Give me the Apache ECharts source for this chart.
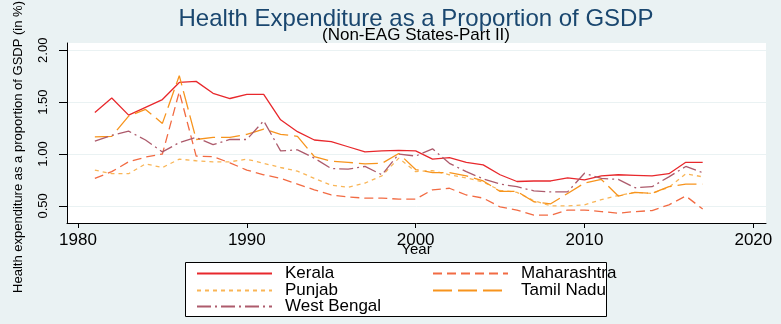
<!DOCTYPE html>
<html>
<head>
<meta charset="utf-8">
<script src="https://cdn.jsdelivr.net/npm/echarts@6/dist/echarts.min.js"></script>
<style>
  html, body { margin: 0; padding: 0; background: #eaf2f3; }
  #chart { width: 781px; height: 324px; }
</style>
</head>
<body>
<div id="chart"></div>
<script>
var years = [1981, 1982, 1983, 1984, 1985, 1986, 1987, 1988, 1989, 1990,
  1991, 1992, 1993, 1994, 1995, 1996, 1997, 1998, 1999, 2000,
  2001, 2002, 2003, 2004, 2005, 2006, 2007, 2008, 2009, 2010,
  2011, 2012, 2013, 2014, 2015, 2016, 2017];

var kerala = [1.40, 1.54, 1.375, 1.45, 1.525, 1.69, 1.70, 1.585, 1.535, 1.575,
  1.575, 1.33, 1.215, 1.135, 1.12, 1.07, 1.02, 1.03, 1.035, 1.03,
  0.95, 0.965, 0.92, 0.895, 0.80, 0.735, 0.74, 0.74, 0.77, 0.75,
  0.79, 0.80, 0.795, 0.79, 0.81, 0.92, 0.92];

var maharashtra = [0.765, 0.83, 0.925, 0.97, 1.00, 1.60, 0.98, 0.975, 0.915, 0.845,
  0.80, 0.765, 0.71, 0.655, 0.605, 0.585, 0.575, 0.575, 0.565, 0.565,
  0.655, 0.67, 0.605, 0.575, 0.49, 0.46, 0.41, 0.41, 0.46, 0.46,
  0.445, 0.43, 0.445, 0.455, 0.51, 0.595, 0.47];

var punjab = [0.845, 0.81, 0.81, 0.905, 0.87, 0.95, 0.935, 0.925, 0.925, 0.95,
  0.91, 0.87, 0.835, 0.765, 0.70, 0.68, 0.72, 0.79, 0.96, 0.83,
  0.84, 0.80, 0.77, 0.73, 0.65, 0.63, 0.55, 0.50, 0.50, 0.51,
  0.56, 0.60, 0.63, 0.62, 0.68, 0.81, 0.78];

var tamilNadu = [1.165, 1.17, 1.365, 1.43, 1.295, 1.755, 1.14, 1.16, 1.16, 1.19,
  1.24, 1.19, 1.17, 0.975, 0.93, 0.92, 0.905, 0.91, 1.005, 0.85,
  0.82, 0.82, 0.79, 0.74, 0.64, 0.64, 0.54, 0.52, 0.62, 0.72,
  0.755, 0.595, 0.63, 0.62, 0.685, 0.71, 0.71];

var westBengal = [1.125, 1.18, 1.22, 1.135, 1.02, 1.11, 1.16, 1.09, 1.14, 1.14,
  1.32, 1.03, 1.04, 0.96, 0.86, 0.855, 0.88, 0.80, 1.00, 0.98,
  1.05, 0.91, 0.83, 0.76, 0.71, 0.685, 0.645, 0.635, 0.635, 0.815,
  0.765, 0.755, 0.675, 0.685, 0.78, 0.88, 0.82];

var yTicks = [0.5, 1.0, 1.5, 2.0];
var xTicks = [1980, 1990, 2000, 2010, 2020];

function pairs(vals) {
  return years.map(function (y, i) { return [y, vals[i]]; });
}

var font = "'Liberation Sans', Arial, sans-serif";

var chart = echarts.init(document.getElementById('chart'));

function line(name, vals, color, dash) {
  return {
    name: name,
    type: 'line',
    symbol: 'none',
    data: pairs(vals),
    lineStyle: { color: color, width: 1.3, type: dash },
    itemStyle: { color: color },
    emphasis: { disabled: true }
  };
}

function legendItem(name, left, top) {
  return {
    data: [name],
    left: left,
    top: top,
    padding: 0,
    itemWidth: 75,
    itemHeight: 14,
    selectedMode: false,
    itemStyle: { opacity: 0 },
    textStyle: { fontFamily: font, fontSize: 17, color: '#000', padding: [0, 0, 0, 8] }
  };
}

chart.setOption({
  animation: false,
  backgroundColor: '#eaf2f3',
  title: [
    {
      text: 'Health Expenditure as a Proportion of GSDP',
      left: 416, top: 7, textAlign: 'center', padding: 0,
      textStyle: { fontFamily: font, fontSize: 24, fontWeight: 'normal', color: '#1a476f' }
    },
    {
      text: '(Non-EAG States-Part II)',
      left: 416, top: 27, textAlign: 'center', padding: 0,
      textStyle: { fontFamily: font, fontSize: 17, fontWeight: 'normal', color: '#000' }
    }
  ],
  grid: {
    left: 67, right: 15, top: 43, bottom: 101,
    show: true, backgroundColor: '#fff', borderWidth: 0
  },
  xAxis: {
    type: 'value',
    min: 1979.35,
    max: 2020.75,
    name: 'Year',
    nameLocation: 'middle',
    nameGap: 27,
    nameMoveOverlap: false,
    nameTextStyle: { fontFamily: font, fontSize: 15, color: '#000', verticalAlign: 'middle' },
    axisLine: { lineStyle: { color: '#000', width: 1 } },
    axisTick: { length: 5, customValues: xTicks, lineStyle: { color: '#000' } },
    axisLabel: {
      customValues: xTicks, margin: 9, fontFamily: font, fontSize: 17, color: '#000',
      formatter: function (v) { return String(v); }
    },
    splitLine: { show: false }
  },
  yAxis: {
    type: 'value',
    min: 0.335,
    max: 2.07,
    axisLine: { show: true, lineStyle: { color: '#000', width: 1 } },
    axisTick: { show: true, length: 8, customValues: yTicks, lineStyle: { color: '#000' } },
    axisLabel: {
      customValues: yTicks, rotate: 90, margin: 17,
      fontFamily: font, fontSize: 13, color: '#000',
      formatter: function (v) { return v.toFixed(2); }
    },
    splitLine: { show: true, lineStyle: { color: '#eaf2f3', width: 1 } }
  },
  legend: [
    legendItem('Kerala', 196, 265),
    legendItem('Maharashtra', 432, 265),
    legendItem('Punjab', 196, 282),
    legendItem('Tamil Nadu', 432, 282),
    legendItem('West Bengal', 196, 298)
  ],
  graphic: [
    {
      type: 'rect', z: -1,
      shape: { x: 185.5, y: 262.5, width: 421, height: 54 },
      style: { fill: '#fff', stroke: '#000', lineWidth: 1 }
    },
    {
      type: 'text', x: 18, y: 147, rotation: Math.PI / 2,
      style: {
        text: 'Health expenditure as a proportion of GSDP (in %)',
        align: 'center', verticalAlign: 'middle',
        fontFamily: font, fontSize: 13, fill: '#000'
      }
    }
  ],
  series: [
    line('Kerala', kerala, '#e8282c', 'solid'),
    line('Maharashtra', maharashtra, '#f26b43', [9, 5]),
    line('Punjab', punjab, '#f9b556', [4, 4]),
    line('Tamil Nadu', tamilNadu, '#f7941d', [19, 6]),
    line('West Bengal', westBengal, '#ad5b6c', [14, 4, 2, 4])
  ]
});
</script>
</body>
</html>
